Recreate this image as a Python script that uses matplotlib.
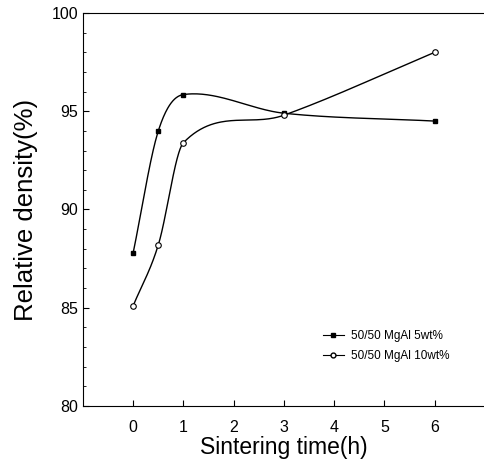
import numpy as np
import matplotlib
matplotlib.use("Agg")
import matplotlib.pyplot as plt
from matplotlib.ticker import MultipleLocator

plt.rcParams['font.family'] = ['Liberation Sans', 'DejaVu Sans']

czas = [0, 0.5, 1, 3, 6]
gestosc_5 = [87.8, 94.0, 95.85, 94.9, 94.5]
gestosc_10 = [85.1, 88.2, 93.4, 94.8, 98.0]
etykiety = ["50/50 MgAl 5wt%", "50/50 MgAl 10wt%"]


def gladka(x, y, n=60):
    # krzywa Hermite'a (Catmull-Rom) miedzy punktami pomiarowymi
    x = np.asarray(x, float)
    y = np.asarray(y, float)
    m = len(x)
    d = np.zeros(m)
    d[0] = (y[1] - y[0]) / (x[1] - x[0])
    d[-1] = (y[-1] - y[-2]) / (x[-1] - x[-2])
    for i in range(1, m - 1):
        d[i] = (y[i + 1] - y[i - 1]) / (x[i + 1] - x[i - 1])
    xs_all, ys_all = [], []
    for i in range(m - 1):
        h = x[i + 1] - x[i]
        t = np.linspace(0, 1, n)
        h00 = 2 * t**3 - 3 * t**2 + 1
        h10 = t**3 - 2 * t**2 + t
        h01 = -2 * t**3 + 3 * t**2
        h11 = t**3 - t**2
        xs_all.append(x[i] + t * h)
        ys_all.append(h00 * y[i] + h10 * h * d[i] + h01 * y[i + 1] + h11 * h * d[i + 1])
    return np.concatenate(xs_all), np.concatenate(ys_all)


fig = plt.figure(figsize=(4.85, 4.66), dpi=100)
ax = fig.add_axes([0.171, 0.129, 0.829, 0.843])

xs, ys = gladka(czas, gestosc_5)
ax.plot(xs, ys, color='black', lw=1)
xs, ys = gladka(czas, gestosc_10)
ax.plot(xs, ys, color='black', lw=1)
ax.plot(czas, gestosc_5, 's', color='black', ms=3.5, lw=0)
ax.plot(czas, gestosc_10, 'o', mfc='white', mec='black', ms=4, mew=0.8, lw=0)

# wpisy legendy
h1, = ax.plot([], [], 's-', color='black', ms=3, lw=0.8)
h2, = ax.plot([], [], 'o-', color='black', mfc='white', ms=3.5, lw=0.8)
ax.legend([h1, h2], etykiety, loc='upper left', bbox_to_anchor=(0.585, 0.205),
          frameon=False, fontsize=8.5, handlelength=1.8, handletextpad=0.6,
          labelspacing=0.7, borderaxespad=0)

ax.set_xlim(-1, 7)
ax.set_ylim(80, 100)
ax.yaxis.set_major_locator(MultipleLocator(5))
ax.yaxis.set_minor_locator(MultipleLocator(1))
ax.set_xticks([0, 1, 2, 3, 4, 5, 6])
ax.tick_params(direction='in', labelsize=11.5, length=4)
ax.tick_params(axis='x', pad=10)
ax.tick_params(which='minor', direction='in', length=2)
ax.spines['right'].set_visible(False)
ax.set_xlabel("Sintering time(h)", fontsize=16.5, labelpad=1)
ax.set_ylabel("Relative density(%)", fontsize=18.5, labelpad=10)

plt.savefig("out.png", dpi=100)
